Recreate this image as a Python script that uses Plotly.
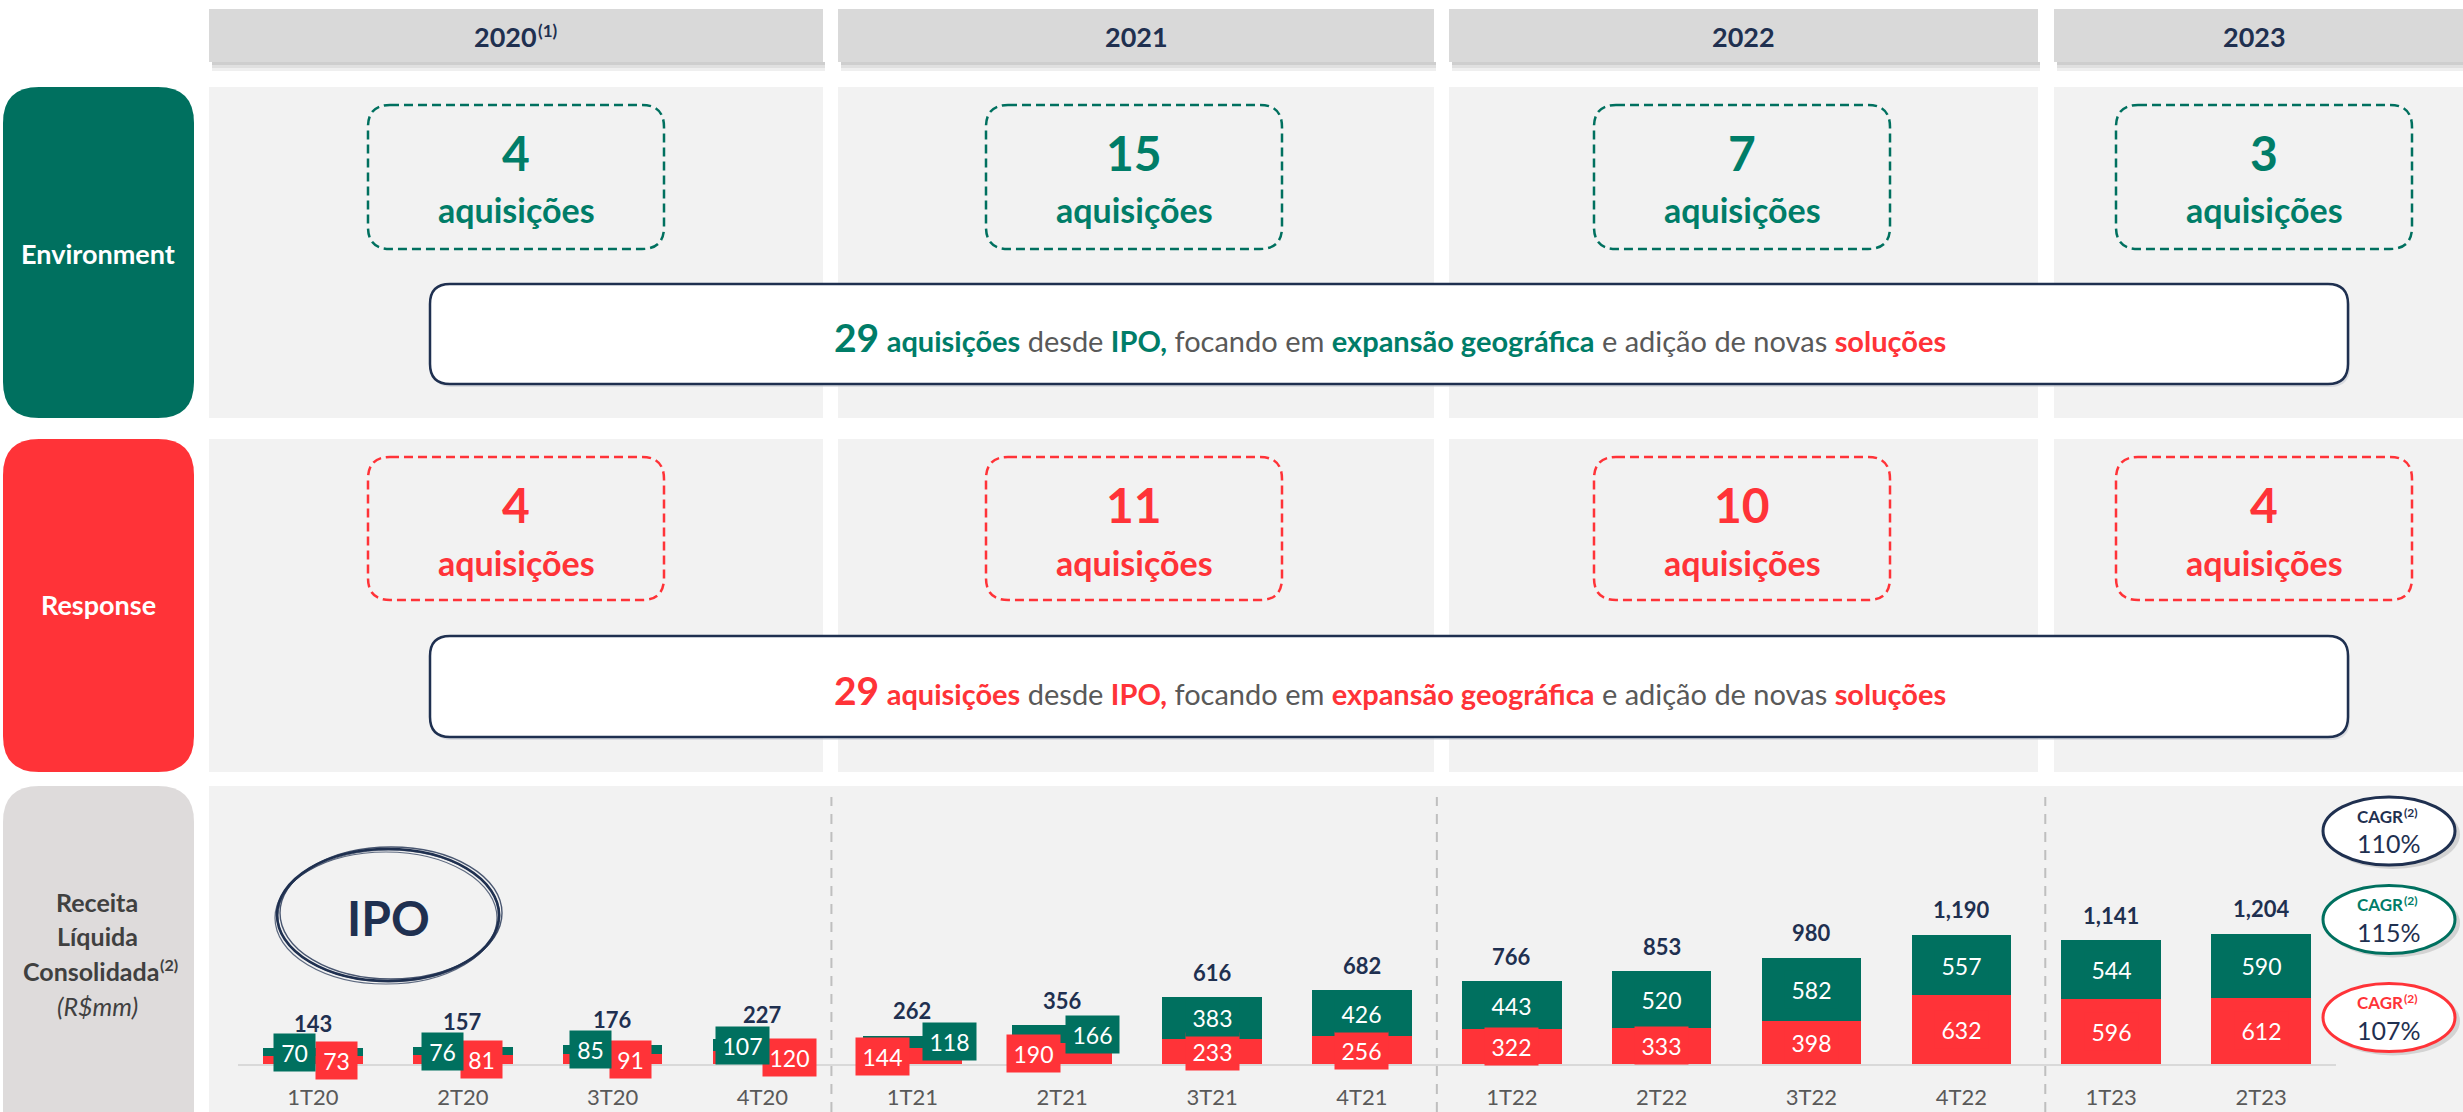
import plotly.graph_objects as go

# ---------------------------------------------------------------- data
quarters = ["1T20", "2T20", "3T20", "4T20", "1T21", "2T21", "3T21", "4T21",
            "1T22", "2T22", "3T22", "4T22", "1T23", "2T23"]
response_rev = [73, 81, 91, 120, 144, 190, 233, 256, 322, 333, 398, 632, 596, 612]
environment_rev = [70, 76, 85, 107, 118, 166, 383, 426, 443, 520, 582, 557, 544, 590]
total_rev = [143, 157, 176, 227, 262, 356, 616, 682, 766, 853, 980, 1190, 1141, 1204]

years = ["2020", "2021", "2022", "2023"]
year_notes = ["(1)", "", "", ""]
env_acquisitions = [4, 15, 7, 3]
resp_acquisitions = [4, 11, 10, 4]
env_total_acq = 29
resp_total_acq = 29

cagr_names = ["CAGR", "CAGR", "CAGR"]
cagr_values = ["110%", "115%", "107%"]

# ---------------------------------------------------------------- style
W, H = 2463, 1112
FONT = "Lato"
GREEN = "#00705F"
GREEN_TXT = "#007D68"
RED = "#FF3338"
NAVY = "#1F3050"
GREY_TXT = "#595959"
DARK_TXT = "#404040"
PANEL = "#F2F2F2"
HEADER = "#D9D9D9"
LABEL_GREY = "#DEDBDB"

# column extents in pixels
cols = [(209, 823), (838, 1434), (1449, 2038), (2054, 2463)]
acq_centers = [516, 1134, 1742, 2264]
ACQ_W = 296

# horizontal nudges for the labels of the short bars
env_dx = [-18, -20, -22, -20, 37, 30, 0, 0, 0, 0, 0, 0, 0, 0]
resp_dx = [24, 19, 18, 27, -30, -29, 0, 0, 0, 0, 0, 0, 0, 0]


def px(x):
    return x / W


def py(y):
    return 1 - y / H


def rrect(x0, y0, x1, y1, r):
    pts = [
        ("M", x0 + r, y0), ("L", x1 - r, y0), ("Q", x1, y0, x1, y0 + r),
        ("L", x1, y1 - r), ("Q", x1, y1, x1 - r, y1), ("L", x0 + r, y1),
        ("Q", x0, y1, x0, y1 - r), ("L", x0, y0 + r), ("Q", x0, y0, x0 + r, y0),
    ]
    out = []
    for p in pts:
        cmd, vals = p[0], p[1:]
        coords = []
        for i in range(0, len(vals), 2):
            coords.append(f"{px(vals[i]):.6f},{py(vals[i + 1]):.6f}")
        out.append(cmd + " " + " ".join(coords))
    return " ".join(out) + " Z"


shapes = []


def add_path(path, fill=None, line_color=None, line_width=0, dash=None, opacity=1.0):
    shp = dict(type="path", path=path, xref="paper", yref="paper", layer="below",
               fillcolor=fill if fill else "rgba(0,0,0,0)", opacity=opacity,
               line=dict(color=line_color if line_color else "rgba(0,0,0,0)",
                         width=line_width))
    if dash:
        shp["line"]["dash"] = dash
    shapes.append(shp)


def add_rect(x0, y0, x1, y1, fill, opacity=1.0):
    shapes.append(dict(type="rect", xref="paper", yref="paper", layer="below",
                       x0=px(x0), x1=px(x1), y0=py(y1), y1=py(y0),
                       fillcolor=fill, opacity=opacity, line=dict(width=0)))


def add_ellipse(x0, y0, x1, y1, fill=None, line_color=None, line_width=0, opacity=1.0):
    shapes.append(dict(type="circle", xref="paper", yref="paper", layer="below",
                       x0=px(x0), x1=px(x1), y0=py(y1), y1=py(y0), opacity=opacity,
                       fillcolor=fill if fill else "rgba(0,0,0,0)",
                       line=dict(color=line_color if line_color else "rgba(0,0,0,0)",
                                 width=line_width)))


annotations = []


def add_text(x, y, text, size, color, xanchor="center", **kw):
    annotations.append(dict(x=px(x), y=py(y), xref="paper", yref="paper", text=text,
                            showarrow=False, xanchor=xanchor, yanchor="middle",
                            borderpad=0, borderwidth=0,
                            font=dict(family=FONT, size=size, color=color), **kw))


def add_with_note(x_join, y, text, size, note, note_size, note_dy, color, note_color=None):
    """Text ending at x_join with a small raised footnote marker right after it."""
    add_text(x_join, y, f"<b>{text}</b>", size, color, xanchor="right")
    add_text(x_join + 1, y + note_dy, f"<b>{note}</b>", note_size,
             note_color if note_color else color, xanchor="left")


# ---------------------------------------------------------------- header row
for (x0, x1), yr, note in zip(cols, years, year_notes):
    for k, op in enumerate([0.55, 0.35, 0.18]):
        add_rect(x0 + 3, 62 + 3 * k, x1 + 2, 65 + 3 * k, "#A6A6A6", opacity=op)
    add_rect(x0, 9, x1, 62, HEADER)
    if note:
        add_with_note((x0 + x1) / 2 + 21, 36, yr, 27, note, 17, -6, NAVY)
    else:
        add_text((x0 + x1) / 2 - (4 if x1 == W else 0), 36, f"<b>{yr}</b>", 27, NAVY)

# ---------------------------------------------------------------- row panels
for (x0, x1) in cols:
    add_rect(x0, 87, x1, 418, PANEL)
    add_rect(x0, 439, x1, 772, PANEL)
add_rect(209, 786, W, H, PANEL)

# row labels
add_path(rrect(3, 87, 194, 418, 36), fill=GREEN)
add_path(rrect(3, 439, 194, 772, 36), fill=RED)
add_path(rrect(3, 786, 194, 1160, 36), fill=LABEL_GREY)
add_text(98, 253, "<b>Environment</b>", 27, "white")
add_text(98, 605, "<b>Response</b>", 27, "white")
add_text(97, 902, "<b>Receita</b>", 25, DARK_TXT)
add_text(97, 936, "<b>Líquida</b>", 25, DARK_TXT)
add_with_note(159, 971, "Consolidada", 25, "(2)", 16, -7, DARK_TXT)
add_text(97, 1006, "<i>(R$mm)</i>", 25, DARK_TXT)

# acquisitions per year
for cx, n_env, n_resp in zip(acq_centers, env_acquisitions, resp_acquisitions):
    add_path(rrect(cx - ACQ_W / 2, 105, cx + ACQ_W / 2, 249, 22),
             line_color=GREEN, line_width=2.5, dash="9px,5px")
    add_text(cx, 152, f"<b>{n_env}</b>", 48, GREEN_TXT)
    add_text(cx, 209, "<b>aquisições</b>", 34, GREEN_TXT)
    add_path(rrect(cx - ACQ_W / 2, 457, cx + ACQ_W / 2, 600, 22),
             line_color=RED, line_width=2.5, dash="9px,5px")
    add_text(cx, 505, f"<b>{n_resp}</b>", 48, RED)
    add_text(cx, 562, "<b>aquisições</b>", 34, RED)


def summary(total, accent):
    hl = f"color:{accent};font-weight:bold"
    return (f'<span style="{hl};font-size:39px">{total}</span> '
            f'<span style="{hl}">aquisições</span> desde '
            f'<span style="{hl}">IPO,</span> focando em '
            f'<span style="{hl}">expansão geográfica</span> e adição de novas '
            f'<span style="color:{RED};font-weight:bold">soluções</span>')


for (y0, y1), total, accent in [((284, 384), env_total_acq, GREEN_TXT),
                                ((636, 737), resp_total_acq, RED)]:
    add_path(rrect(432, y0 + 3, 2350, y1 + 3, 20), fill="#C8CCD4", opacity=0.6)
    add_path(rrect(430, y0, 2348, y1, 20), fill="white", line_color=NAVY, line_width=2.5)
    add_text(1390, (y0 + y1) / 2 + 3, summary(total, accent), 29, GREY_TXT)

# ---------------------------------------------------------------- IPO mark
for dx, dy, wdt, op in [(0, 0, 2.6, 1.0), (3, -2, 1.4, 0.8), (-2, 3, 1.2, 0.7), (1, 1, 1.0, 0.6)]:
    add_ellipse(277 + dx, 849 + dy, 499 + dx, 981 + dy, line_color=NAVY, line_width=wdt, opacity=op)
add_text(388, 917, "<b>IPO</b>", 48, NAVY)

# ---------------------------------------------------------------- CAGR badges
for cy, border, name_color, name, val in zip([831, 919.5, 1017.5], [NAVY, GREEN, RED],
                                            [NAVY, GREEN_TXT, RED], cagr_names, cagr_values):
    add_ellipse(2326, cy - 31, 2460, cy + 38, fill="#9A9A9A", opacity=0.35)
    add_ellipse(2323, cy - 34, 2455, cy + 34, fill="white", line_color=border, line_width=3)
    add_with_note(2403, cy - 15, name, 17, "(2)", 12, -4, name_color)
    add_text(2389, cy + 12, val, 25, NAVY)

# ---------------------------------------------------------------- revenue bars
BASE = 1064
TOP = 790
PX_PER_UNIT = 0.1085
idx = list(range(len(quarters)))

fig = go.Figure()
fig.add_trace(go.Bar(x=idx, y=response_rev, marker=dict(color=RED, line=dict(width=0)),
                     width=0.665, hoverinfo="skip", name="Response"))
fig.add_trace(go.Bar(x=idx, y=environment_rev, marker=dict(color=GREEN, line=dict(width=0)),
                     width=0.665, hoverinfo="skip", name="Environment"))

for i, (r, e, t) in enumerate(zip(response_rev, environment_rev, total_rev)):
    for val, mid, col, dx in [(r, r / 2, RED, resp_dx[i]), (e, r + e / 2, GREEN, env_dx[i])]:
        annotations.append(dict(x=i, y=mid, xref="x", yref="y", text=str(val), showarrow=False,
                                xshift=dx, xanchor="center", yanchor="middle",
                                width=41 if val < 100 else 53, height=37, borderpad=0,
                                bgcolor=col, font=dict(family=FONT, size=23, color="white")))
    annotations.append(dict(x=i, y=r + e, xref="x", yref="y", text=f"<b>{t:,}</b>",
                            showarrow=False, yshift=25, xanchor="center", yanchor="middle",
                            font=dict(family=FONT, size=22, color=NAVY)))

# year separators
for xs in [3.46, 7.5, 11.56]:
    shapes.append(dict(type="line", xref="x", yref="paper", x0=xs, x1=xs,
                       y0=py(H), y1=py(797), layer="below",
                       line=dict(color="#BFBFBF", width=2, dash="10px,8px")))

fig.update_layout(
    width=W, height=H, autosize=False,
    margin=dict(l=0, r=0, t=0, b=0),
    paper_bgcolor="white", plot_bgcolor="rgba(0,0,0,0)",
    barmode="stack", bargap=0, showlegend=False,
    shapes=shapes, annotations=annotations,
    xaxis=dict(domain=[px(238), px(2336)], range=[-0.5, 13.5],
               tickmode="array", tickvals=idx, ticktext=quarters,
               tickfont=dict(family=FONT, size=22, color=GREY_TXT),
               ticks="outside", ticklen=13, tickcolor="rgba(0,0,0,0)",
               showline=True, linecolor="#D9D9D9", linewidth=2,
               showgrid=False, zeroline=False, fixedrange=True),
    yaxis=dict(domain=[(H - BASE) / H, (H - TOP) / H],
               range=[0, (BASE - TOP) / PX_PER_UNIT],
               visible=False, showgrid=False, zeroline=False, fixedrange=True),
)

fig.write_html("out.html")
